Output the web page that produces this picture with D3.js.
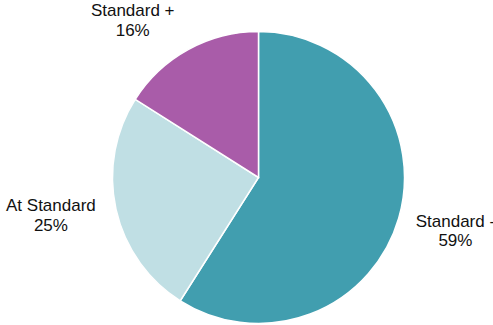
<!DOCTYPE html>
<html>
<head>
<meta charset="utf-8">
<script src="https://cdn.jsdelivr.net/npm/d3@7"></script>
<style>
  html, body { margin: 0; padding: 0; background: #fff; }
  svg { display: block; }
  text { font-family: "Liberation Sans", Arial, sans-serif; font-size: 17px; fill: #111; }
</style>
</head>
<body>
<div id="chart"></div>
<script>
const categories = ["Standard -", "At Standard", "Standard +"];
const values = [59, 25, 16];
const colors = ["#419EAF", "#C0DFE4", "#A95CA9"];

const width = 493, height = 325;
const cx = 258.5, cy = 177.5, radius = 146;

const svg = d3.select("#chart")
              .append("svg")
              .attr("width", width)
              .attr("height", height);

const g = svg.append("g").attr("transform", `translate(${cx},${cy})`);

const data = categories.map((c, i) => ({ name: c, value: values[i], color: colors[i] }));

const pie = d3.pie().sort(null).value(d => d.value);
const arc = d3.arc().innerRadius(0).outerRadius(radius);
const arcs = pie(data);

g.selectAll("path")
 .data(arcs)
 .enter()
 .append("path")
 .attr("d", arc)
 .attr("fill", d => d.data.color)
 .attr("stroke", "#fff")
 .attr("stroke-width", 1.5);

// labels go outside the pie along the mid angle, then nudged (first baseline)
const labelArc = d3.arc().innerRadius(204).outerRadius(204);
const nudge = [[1, -7.5], [-8.5, -11], [-27.5, 17.5]];

const labels = g.selectAll(".label")
 .data(arcs)
 .enter()
 .append("text")
 .attr("class", "label")
 .attr("text-anchor", "middle")
 .attr("transform", (d, i) => {
   const [x, y] = labelArc.centroid(d);
   return `translate(${x + nudge[i][0]},${y + nudge[i][1]})`;
 });

labels.append("tspan")
 .attr("x", 0)
 .attr("y", 0)
 .text(d => d.data.name);

labels.append("tspan")
 .attr("x", 0)
 .attr("y", 19.5)
 .text(d => d3.format(".0f")(d.data.value) + "%");
</script>
</body>
</html>
